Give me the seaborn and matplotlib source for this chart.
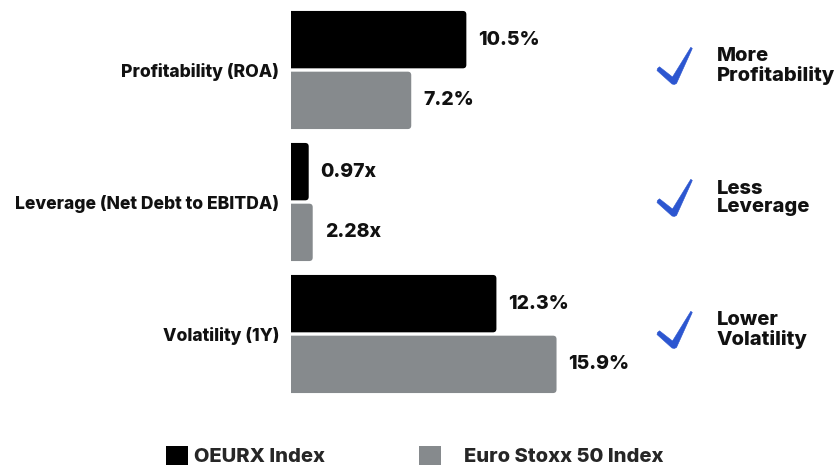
import matplotlib
matplotlib.use("Agg")

import matplotlib.pyplot as plt
import pandas as pd
import seaborn as sns

from matplotlib.patches import FancyBboxPatch, Patch, Polygon

metrics = ["Profitability (ROA)", "Leverage (Net Debt to EBITDA)", "Volatility (1Y)"]
series = ["OEURX Index", "Euro Stoxx 50 Index"]
# bar lengths as drawn in the picture (leverage bars are drawn short, not to scale)
oeurx_bar = [10.5, 1.06, 12.3]
euro_bar = [7.2, 1.30, 15.9]
oeurx_text = ["10.5%", "0.97x", "12.3%"]
euro_text = ["7.2%", "2.28x", "15.9%"]
verdicts = ["More\nProfitability", "Less\nLeverage", "Lower\nVolatility"]

colors = {"OEURX Index": "#000000", "Euro Stoxx 50 Index": "#868a8d"}
check_blue = "#2c56d0"

df = pd.DataFrame({
    "metric": metrics * 2,
    "index": [series[0]] * 3 + [series[1]] * 3,
    "value": oeurx_bar + euro_bar,
})

sns.set_theme(style="white")
plt.rcParams["font.family"] = ["Inter", "DejaVu Sans"]
plt.rcParams["font.weight"] = "bold"

W, H = 835, 465
AX_LEFT = 291
fig = plt.figure(figsize=(W / 100, H / 100), dpi=100)
ax = fig.add_axes([AX_LEFT / W, 1 - 400 / H, 1 - AX_LEFT / W, 396 / H])

sns.barplot(
    data=df, y="metric", x="value", hue="index", orient="h",
    palette=colors, width=0.92, gap=0.055, legend=False, ax=ax,
    saturation=1,
)

px_per_unit = 16.7
ax.set_xlim(0, (W - AX_LEFT) / px_per_unit)
ax.set_ylim(2.5, -0.5)

# value labels
for cont, labels in zip(ax.containers, [oeurx_text, euro_text]):
    ax.bar_label(cont, labels=labels, padding=8.6, fontsize=14,
                 fontweight="heavy", color="#111111")

# rounded right corners on bars
r = 3.5 / px_per_unit
aspect = (3.5 / 132) / r
for p in list(ax.patches):
    x, y = p.get_x(), p.get_y()
    w, h = p.get_width(), p.get_height()
    fc = p.get_facecolor()
    p.remove()
    ax.add_patch(FancyBboxPatch(
        (x - r, y), w + r, h,
        boxstyle=f"round,pad=0,rounding_size={r}",
        mutation_aspect=aspect, facecolor=fc, edgecolor="none",
    ))

ax.set_xlabel("")
ax.set_ylabel("")
ax.set_xticks([])
ax.tick_params(axis="y", length=0, pad=8.6, labelsize=12.6, labelcolor="#111111")
for lab in ax.get_yticklabels():
    lab.set_fontweight("heavy")
for s in ax.spines.values():
    s.set_visible(False)


def ax_frac(xpx):
    # figure pixel x -> axes fraction
    return (xpx - AX_LEFT) / (W - AX_LEFT)


# brush-style check mark outline, in pixels from its top-left corner
check_shape = [(0.5, 21.5), (2.5, 19.8), (15.5, 30.0), (33.8, 0.3), (35.3, 1.5),
               (19.5, 36.5), (17.3, 37.5), (15.0, 37.0), (0.0, 23.5)]

for i, txt in enumerate(verdicts):
    # category centre in figure pixels (from top)
    ypx = 70 + 132 * i
    pts = [((657 + cx) / W, 1 - (ypx - 23 + cy) / H) for cx, cy in check_shape]
    fig.patches.append(Polygon(pts, closed=True, transform=fig.transFigure,
                               facecolor=check_blue, edgecolor=check_blue,
                               linewidth=0.4, joinstyle="round"))
    ax.text(ax_frac(717), i - 0.03, txt, transform=ax.get_yaxis_transform(),
            fontsize=14.5, fontweight="heavy", color="#111111",
            ha="left", va="center", linespacing=1.05)

# legend, two separately placed entries
for name, xpx, pad in [(series[0], 166, 0.3), (series[1], 419, 1.15)]:
    fig.legend(
        handles=[Patch(facecolor=colors[name], edgecolor="none")],
        labels=[name], loc="center left",
        bbox_to_anchor=(xpx / W, 1 - 456 / H), frameon=False,
        borderpad=0, borderaxespad=0, handlelength=1.1, handleheight=1.1,
        handletextpad=pad, prop={"size": 14.5, "weight": "heavy"},
    )

fig.savefig("out.png", dpi=100)
